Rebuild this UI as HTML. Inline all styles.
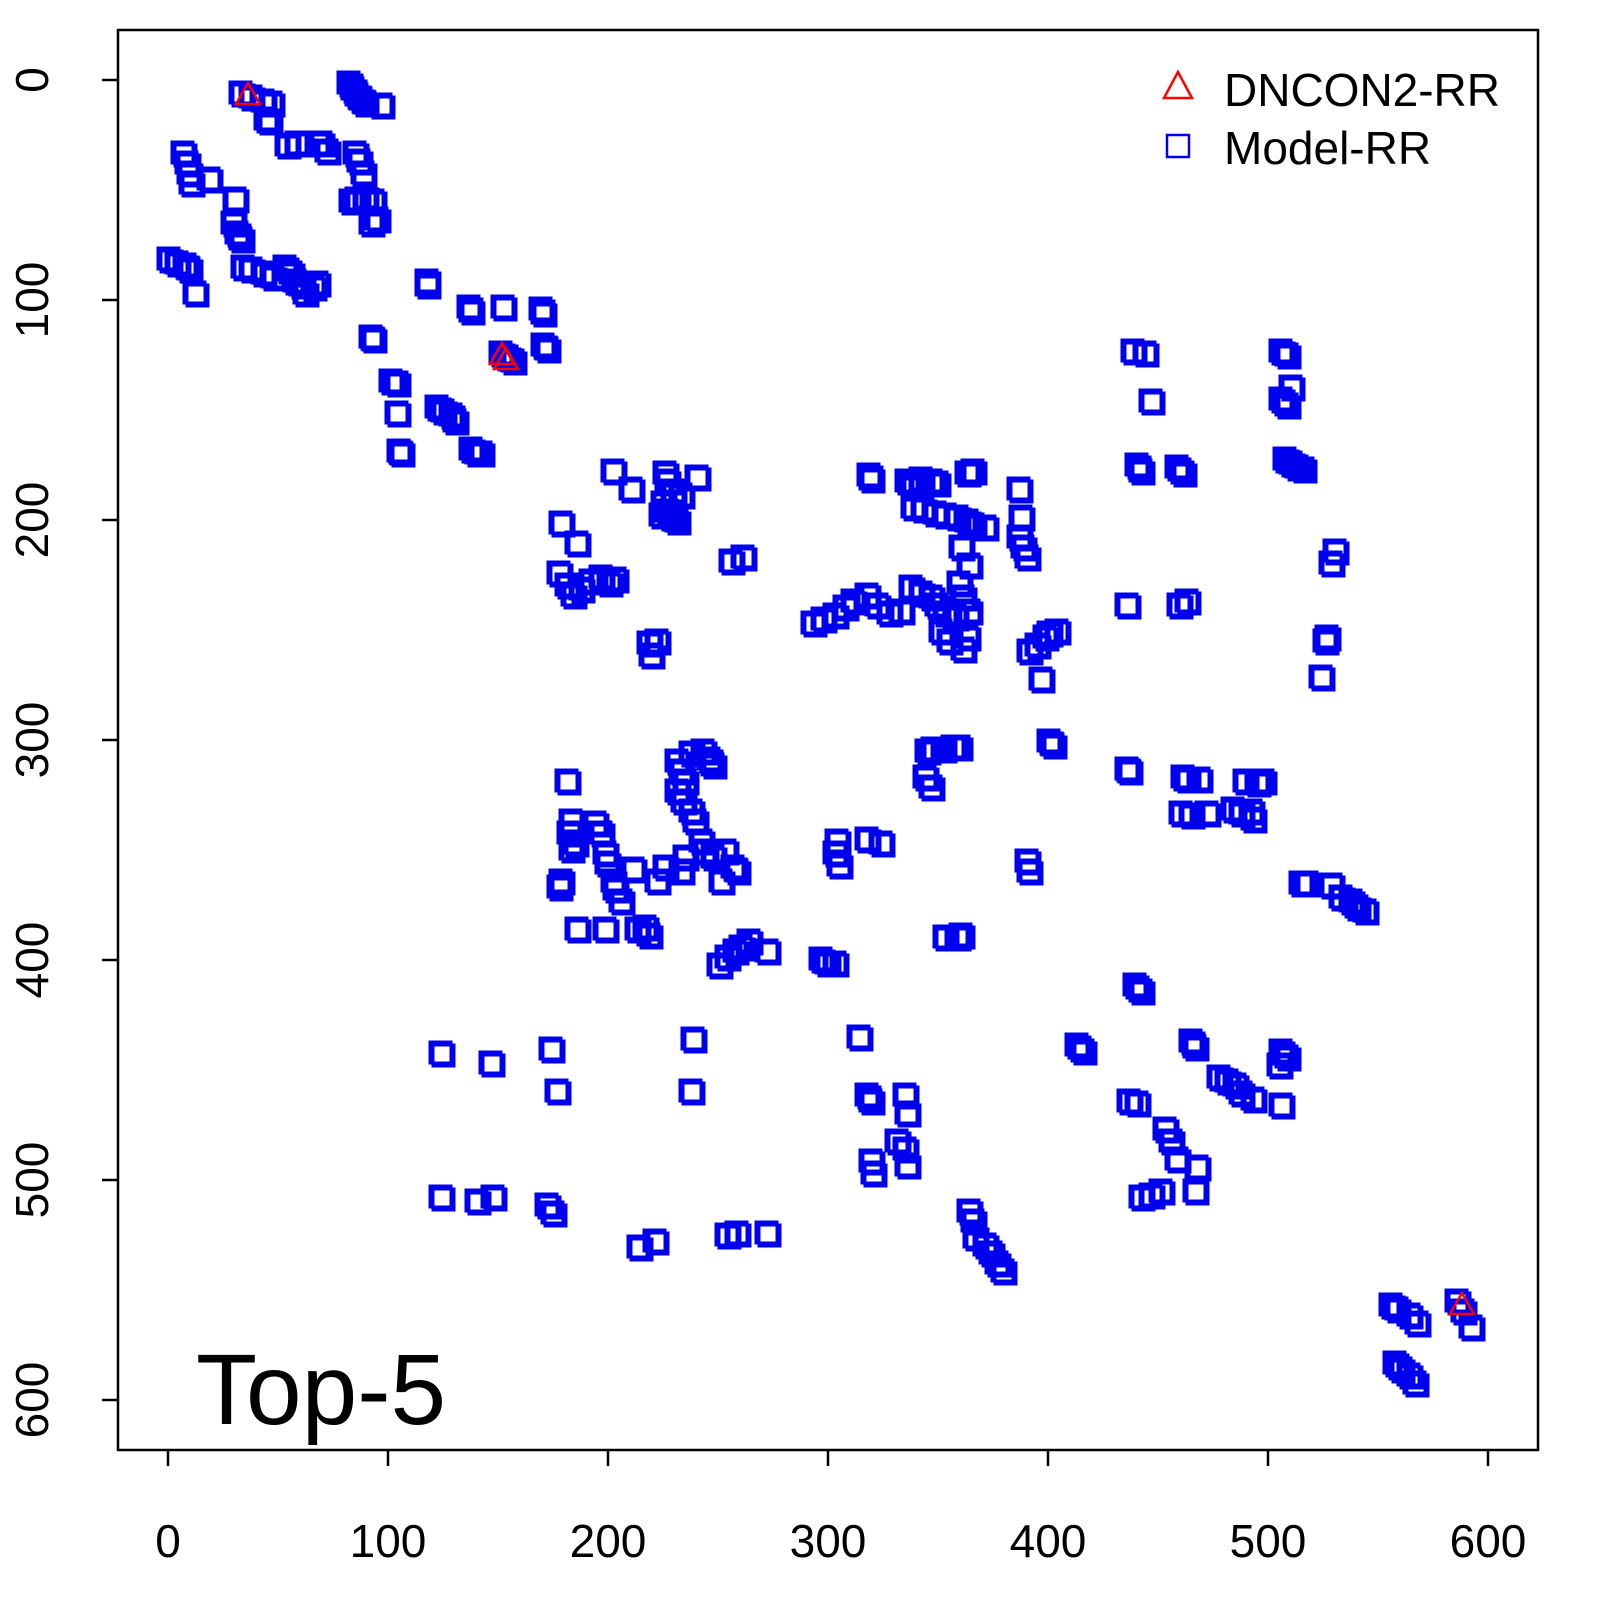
<!DOCTYPE html>
<html><head><meta charset="utf-8"><style>
html,body{margin:0;padding:0;background:#fff}
svg{display:block}
text{font-family:"Liberation Sans",sans-serif}
</style></head><body>
<svg id="s" width="1600" height="1600" xmlns="http://www.w3.org/2000/svg">
<rect x="118" y="30" width="1420" height="1420" fill="none" stroke="#000" stroke-width="2.5"/>
<g stroke="#000" stroke-width="2.5">
<line x1="168" y1="1450" x2="168" y2="1466"/><line x1="388" y1="1450" x2="388" y2="1466"/><line x1="608" y1="1450" x2="608" y2="1466"/><line x1="828" y1="1450" x2="828" y2="1466"/><line x1="1048" y1="1450" x2="1048" y2="1466"/><line x1="1268" y1="1450" x2="1268" y2="1466"/><line x1="1488" y1="1450" x2="1488" y2="1466"/>
<line x1="102" y1="80" x2="118" y2="80"/><line x1="102" y1="300" x2="118" y2="300"/><line x1="102" y1="520" x2="118" y2="520"/><line x1="102" y1="740" x2="118" y2="740"/><line x1="102" y1="960" x2="118" y2="960"/><line x1="102" y1="1180" x2="118" y2="1180"/><line x1="102" y1="1400" x2="118" y2="1400"/>
</g>
<g font-size="46" text-anchor="middle" fill="#000">
<text x="168" y="1557">0</text><text x="388" y="1557">100</text><text x="608" y="1557">200</text><text x="828" y="1557">300</text><text x="1048" y="1557">400</text><text x="1268" y="1557">500</text><text x="1488" y="1557">600</text>
<text transform="translate(48,80) rotate(-90)">0</text>
<text transform="translate(48,300) rotate(-90)">100</text>
<text transform="translate(48,520) rotate(-90)">200</text>
<text transform="translate(48,740) rotate(-90)">300</text>
<text transform="translate(48,960) rotate(-90)">400</text>
<text transform="translate(48,1180) rotate(-90)">500</text>
<text transform="translate(48,1400) rotate(-90)">600</text>
</g>
<g id="pts" fill="none" stroke="#0000ee" stroke-width="3"></g>
<g fill="none" stroke="#f00" stroke-width="2.5">
<polygon points="248,83 236,104 260,104"/>
<polygon points="502,343 490,364 514,364"/>
<polygon points="506,348 494,369 518,369"/>
<polygon points="1462,1293 1450,1314 1474,1314"/>
<polygon points="1178,72 1164,98 1192,98"/>
</g>
<rect x="1167" y="135" width="22" height="22" fill="none" stroke="#0000ee" stroke-width="2.5"/>
<text x="1224" y="106" font-size="46">DNCON2-RR</text>
<text x="1224" y="164" font-size="46">Model-RR</text>
<text x="196" y="1424" font-size="100">Top-5</text>
</svg>
<script>
var P=[[240,92],[250,96],[262,100],[270,102],[265,118],[268,120],[348,82],[352,88],[356,94],[360,98],[364,102],[380,104],[182,152],[186,162],[188,172],[190,182],[208,178],[286,144],[296,142],[316,142],[320,142],[326,150],[354,152],[358,160],[362,172],[350,200],[356,198],[364,196],[372,200],[376,218],[370,222],[234,198],[232,222],[236,232],[240,238],[242,266],[250,268],[262,272],[272,276],[168,258],[176,262],[184,264],[188,268],[194,292],[284,266],[290,272],[294,280],[300,284],[304,292],[312,286],[316,282],[426,280],[426,284],[468,306],[470,310],[502,306],[540,308],[542,312],[370,336],[372,338],[500,352],[506,356],[512,360],[542,344],[546,348],[390,380],[396,382],[396,412],[398,450],[400,452],[436,406],[442,410],[450,414],[454,420],[470,448],[476,452],[480,452],[612,470],[630,488],[560,522],[576,542],[664,472],[666,480],[672,490],[680,494],[696,476],[662,502],[666,510],[670,516],[676,520],[660,514],[558,572],[566,584],[572,594],[580,588],[590,580],[600,576],[608,582],[614,578],[730,560],[742,556],[648,642],[656,640],[650,654],[868,474],[870,478],[906,480],[912,486],[920,478],[930,480],[936,482],[912,506],[922,508],[934,512],[944,514],[956,516],[966,520],[972,524],[984,526],[966,472],[972,470],[1018,488],[1020,516],[1018,536],[1022,546],[1026,556],[812,622],[822,618],[834,614],[844,606],[852,600],[866,594],[876,604],[888,612],[900,610],[910,586],[920,592],[930,596],[936,604],[944,612],[954,616],[940,630],[948,640],[960,546],[968,564],[958,582],[962,596],[968,610],[966,636],[962,648],[1028,650],[1036,644],[1044,636],[1040,678],[1048,632],[1056,630],[1132,350],[1144,352],[1150,400],[1136,464],[1140,470],[1176,466],[1182,472],[1126,604],[1178,604],[1186,600],[1280,350],[1286,354],[1290,386],[1280,398],[1286,404],[1284,458],[1290,462],[1296,466],[1302,468],[1334,550],[1330,562],[1324,640],[1320,676],[1326,636],[676,760],[680,770],[684,780],[690,752],[702,750],[708,758],[712,764],[676,790],[682,800],[690,810],[694,820],[700,840],[704,850],[712,856],[684,856],[680,870],[664,866],[656,880],[724,850],[732,866],[736,870],[720,880],[566,780],[570,820],[568,832],[574,842],[570,848],[560,880],[558,886],[594,822],[600,832],[604,852],[606,862],[612,880],[614,888],[620,900],[632,868],[644,926],[636,928],[648,934],[576,928],[604,928],[718,964],[726,956],[734,950],[740,946],[748,940],[766,950],[834,852],[836,840],[838,864],[866,838],[880,842],[926,750],[932,748],[942,748],[952,746],[958,746],[924,776],[930,786],[1048,740],[1052,744],[1026,860],[1028,870],[944,936],[956,936],[960,934],[826,962],[834,962],[1126,768],[1128,770],[1182,776],[1186,778],[1198,778],[1180,812],[1190,814],[1206,812],[1232,808],[1240,812],[1250,810],[1252,818],[1244,780],[1256,782],[1262,780],[1300,882],[1306,882],[1330,884],[1340,896],[1350,900],[1356,906],[1364,910],[1134,984],[1140,990],[1076,1044],[1082,1050],[1190,1040],[1194,1046],[1218,1076],[1226,1080],[1234,1084],[1240,1092],[1252,1098],[1280,1104],[1280,1050],[1286,1056],[1278,1064],[1128,1100],[1136,1102],[1164,1128],[1170,1140],[1176,1158],[1196,1166],[1194,1190],[1140,1196],[1150,1194],[1160,1190],[440,1052],[490,1062],[550,1048],[556,1090],[692,1038],[690,1090],[440,1196],[476,1200],[492,1196],[546,1204],[552,1212],[638,1246],[654,1240],[726,1234],[736,1232],[766,1232],[820,958],[858,1036],[866,1094],[870,1100],[904,1094],[906,1112],[870,1160],[872,1172],[896,1140],[904,1148],[906,1164],[968,1210],[972,1220],[974,1236],[984,1244],[990,1252],[996,1262],[1002,1270],[1390,1304],[1396,1308],[1408,1314],[1416,1322],[1456,1300],[1462,1310],[1470,1326],[1394,1362],[1400,1368],[1408,1374],[1414,1382]];
var g=document.getElementById('pts'),h='';
P.forEach(function(p){
h+='<rect x="'+(p[0]-10)+'" y="'+(p[1]-10)+'" width="21" height="21"/>';
h+='<rect x="'+(p[0]-7)+'" y="'+(p[1]-7)+'" width="21" height="21"/>';
});
g.innerHTML=h;
</script>
</body></html>
